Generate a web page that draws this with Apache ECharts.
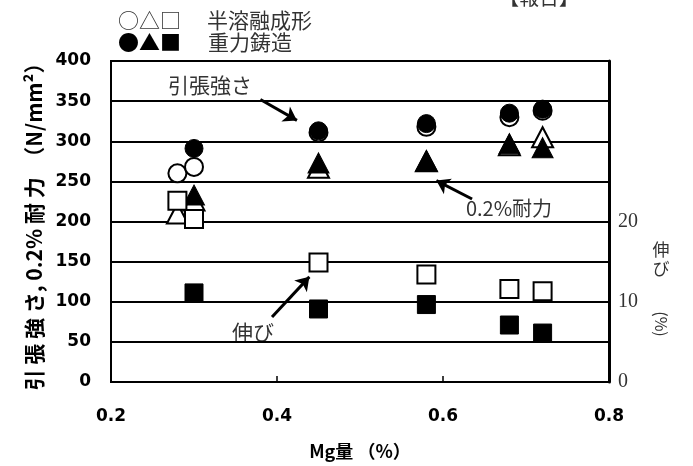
<!DOCTYPE html>
<html>
<head>
<meta charset="utf-8">
<script src="https://cdn.jsdelivr.net/npm/echarts@6/dist/echarts.min.js"></script>
<style>html,body{margin:0;padding:0;background:#fff}#c{width:693px;height:466px}</style>
</head>
<body>
<div id="c"></div>
<script>
// ---- data (Mg %, tensile / 0.2% proof stress in N/mm2, elongation in %) ----
const semiMg = [0.28, 0.30, 0.45, 0.58, 0.68, 0.72];
const semiTensile = [260, 268, 311, 318, 330, 338];
const semiProof = [210, 226, 267, 275, 295, 305];
const semiElong = [22.6, 20.3, 14.9, 13.4, 11.6, 11.3];

const gravMg = [0.30, 0.45, 0.58, 0.68, 0.72];
const gravTensile = [291, 313, 322, 335, 340];
const gravProof = [233, 273, 276, 297, 292];
const gravElong = [11.1, 9.1, 9.65, 7.1, 6.1];

const xTicks = [0.2, 0.4, 0.6, 0.8];
const rightLabels = [0, 10, 20];

// annotation arrows [from, to] in left-axis data coords
const arrowTensile = [[0.380, 352], [0.424, 326]];
const arrowProof = [[0.635, 228], [0.592, 251]];
const arrowElong = [[0.394, 81], [0.439, 131]];

const pair = (xs, ys) => xs.map((x, i) => [x, ys[i]]);

const chart = echarts.init(document.getElementById('c'));
const openStyle = {color: '#fff', borderColor: '#000', borderWidth: 2, opacity: 1};
const fillStyle = {color: '#000', borderColor: '#000', borderWidth: 1, opacity: 1};
const cjk = 'Noto Sans CJK JP';

function sc(name, data, symbol, size, style, yIdx, extra) {
  return Object.assign({
    name, type: 'scatter', data, symbol, symbolSize: size,
    itemStyle: style, yAxisIndex: yIdx, silent: true
  }, extra || {});
}

const option = {
  animation: false,
  backgroundColor: '#fff',
  grid: {left: 111, right: 84, top: 61, bottom: 84, show: true, borderColor: '#000', borderWidth: 2,
    outerBoundsMode: 'none', containLabel: false},
  xAxis: {
    type: 'value', min: 0.2, max: 0.8, interval: 0.2,
    name: 'Mg量 （%）', nameLocation: 'middle', nameGap: 60,
    nameTextStyle: {fontFamily: cjk, fontWeight: 'bold', fontSize: 18, color: '#000'},
    axisLine: {lineStyle: {color: '#000', width: 2}},
    axisTick: {inside: true, length: 6, lineStyle: {color: '#000', width: 1.5}},
    axisLabel: {margin: 26, fontFamily: 'DejaVu Sans', fontWeight: 'bold', fontSize: 17, color: '#000',
      formatter: v => xTicks.find(t => Math.abs(t - v) < 1e-6).toFixed(1)},
    splitLine: {show: false}
  },
  yAxis: [{
    type: 'value', min: 0, max: 400, interval: 50,
    name: '引 張 強 さ, 0.2% 耐 力  （N/mm²）', nameLocation: 'middle', nameRotate: 90, nameGap: 66,
    nameTextStyle: {fontFamily: cjk, fontWeight: 'bold', fontSize: 21, color: '#000'},
    axisLine: {show: true, lineStyle: {color: '#000', width: 2}},
    axisTick: {show: false},
    axisLabel: {margin: 20, fontFamily: 'DejaVu Sans', fontWeight: 'bold', fontSize: 17, color: '#000'},
    splitLine: {show: true, lineStyle: {color: '#000', width: 2}}
  }, {
    type: 'value', min: 0, max: 40, interval: 10, position: 'right',
    axisLine: {show: true, lineStyle: {color: '#000', width: 3}},
    axisTick: {show: false},
    axisLabel: {margin: 9, fontFamily: 'Liberation Serif', fontSize: 20, color: '#333',
      formatter: v => (rightLabels.indexOf(v) >= 0 ? String(v) : '')},
    splitLine: {show: false}
  }],
  series: [
    sc('semiTensile', pair(semiMg, semiTensile), 'circle', 18, openStyle, 0),
    sc('semiProof', pair(semiMg, semiProof), 'triangle', [21, 20], openStyle, 0),
    sc('gravTensile', pair(gravMg, gravTensile), 'circle', 18, fillStyle, 0, {
      markLine: {
        silent: true, symbol: ['none', 'arrow'], symbolSize: 13, animation: false,
        label: {show: false},
        lineStyle: {color: '#000', width: 3, type: 'solid', opacity: 1},
        data: [arrowTensile, arrowProof, arrowElong].map(a => [{coord: a[0]}, {coord: a[1]}])
      }
    }),
    sc('gravProof', pair(gravMg, gravProof), 'triangle', [21, 20], fillStyle, 0),
    sc('semiElong', pair(semiMg, semiElong), 'rect', 18, openStyle, 1),
    sc('gravElong', pair(gravMg, gravElong), 'rect', 18, fillStyle, 1)
  ],
  graphic: [
    {type: 'text', x: 118, y: 20, style: {text: '○△□', fontFamily: cjk, fontSize: 21, fill: '#333', verticalAlign: 'middle'}},
    {type: 'text', x: 207, y: 20, style: {text: '半溶融成形', fontFamily: cjk, fontSize: 21, fill: '#333', verticalAlign: 'middle'}},
    {type: 'text', x: 118, y: 42, style: {text: '●▲■', fontFamily: cjk, fontSize: 21, fill: '#000', verticalAlign: 'middle'}},
    {type: 'text', x: 208, y: 42, style: {text: '重力鋳造', fontFamily: cjk, fontSize: 21, fill: '#333', verticalAlign: 'middle'}},
    {type: 'text', x: 539, y: -3, style: {text: '【報告】', fontFamily: cjk, fontSize: 20, fill: '#333', align: 'center', verticalAlign: 'middle'}},
    {type: 'text', x: 210, y: 85, style: {text: '引張強さ', fontFamily: cjk, fontSize: 21, fill: '#333', align: 'center', verticalAlign: 'middle'}},
    {type: 'text', x: 509, y: 208, style: {text: '0.2%耐力', fontFamily: cjk, fontSize: 20, fill: '#333', align: 'center', verticalAlign: 'middle'}},
    {type: 'text', x: 253, y: 332, style: {text: '伸び', fontFamily: cjk, fontSize: 21, fill: '#333', align: 'center', verticalAlign: 'middle'}},
    {type: 'text', x: 661, y: 250, style: {text: '伸', fontFamily: cjk, fontSize: 17, fill: '#333', align: 'center', verticalAlign: 'middle'}},
    {type: 'text', x: 661, y: 269, style: {text: 'び', fontFamily: cjk, fontSize: 17, fill: '#333', align: 'center', verticalAlign: 'middle'}},
    {type: 'text', x: 661, y: 324, rotation: -Math.PI / 2, style: {text: '(%)', fontFamily: cjk, fontSize: 16, fill: '#333', align: 'center', verticalAlign: 'middle'}}
  ]
};
chart.setOption(option);
</script>
</body>
</html>
